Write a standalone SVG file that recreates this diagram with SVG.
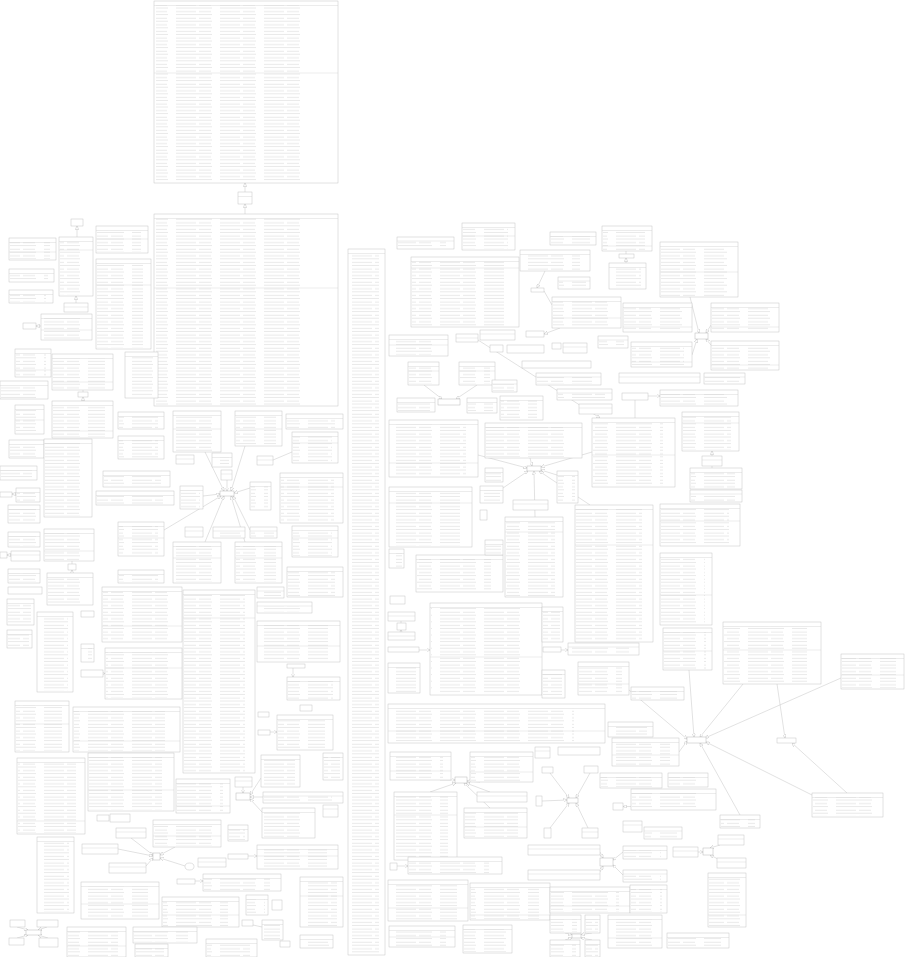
<svg xmlns="http://www.w3.org/2000/svg" width="911" height="957" viewBox="0 0 911 957">
<defs>
<pattern id="tx" width="44" height="6.6" patternUnits="userSpaceOnUse"><rect x="0" y="1.3" width="36" height="0.6" fill="#dadada"/><rect x="0" y="4.6" width="20" height="0.6" fill="#dadada"/><rect x="23" y="4.6" width="12" height="0.6" fill="#dadada"/></pattern>
<marker id="ar" viewBox="0 0 10 10" refX="10" refY="5" markerWidth="3.5" markerHeight="3.5" markerUnits="userSpaceOnUse" orient="auto"><path d="M0,0L10,5L0,10z" fill="#fff" stroke="#aaa" stroke-width="1"/></marker>
<style>
.b{fill:#fff;stroke:#c4c4c4;stroke-width:0.5}
.h{fill:#fff;stroke:#b8b8b8;stroke-width:0.5}
.t{fill:url(#tx)}
.d{stroke:#d0d0d0;stroke-width:0.4;fill:none}
.c line{stroke:#c4c4c4;stroke-width:0.5}
.c .a{marker-end:url(#ar)}
</style>
</defs>
<rect width="911" height="957" fill="#fff"/>
<g class="c" id="connectors">
<line class="a" x1="245" y1="214" x2="245" y2="204"/>
<line class="a" x1="245" y1="192" x2="245" y2="183"/>
<line class="a" x1="77" y1="237" x2="77" y2="226"/>
<line class="a" x1="76" y1="303" x2="76" y2="296"/>
<line class="a" x1="41" y1="326" x2="36" y2="326"/>
<line x1="83" y1="390" x2="83" y2="392"/>
<line class="a" x1="83" y1="401" x2="83" y2="397"/>
<line x1="72" y1="561" x2="72" y2="564"/>
<line class="a" x1="72" y1="573" x2="72" y2="570"/>
<line class="a" x1="16" y1="494" x2="12" y2="494"/>
<line class="a" x1="11" y1="555" x2="7" y2="555"/>
<line class="a" x1="205" y1="452" x2="224" y2="491"/>
<line class="a" x1="227" y1="480" x2="227" y2="491"/>
<line class="a" x1="245" y1="446" x2="231" y2="491"/>
<line class="a" x1="250" y1="488" x2="234" y2="493"/>
<line class="a" x1="203" y1="496" x2="220" y2="494"/>
<line class="a" x1="164" y1="530" x2="221" y2="496"/>
<line class="a" x1="205" y1="542" x2="224" y2="496"/>
<line class="a" x1="245" y1="542" x2="231" y2="496"/>
<line class="a" x1="250" y1="530" x2="233" y2="496"/>
<line x1="273" y1="460" x2="292" y2="452"/>
<line class="a" x1="424" y1="385" x2="442" y2="399"/>
<line class="a" x1="477" y1="385" x2="456" y2="399"/>
<line x1="626" y1="251" x2="626" y2="254"/>
<line class="a" x1="626" y1="263" x2="626" y2="258"/>
<line class="a" x1="545" y1="271" x2="537" y2="288"/>
<line x1="552" y1="305" x2="544" y2="291"/>
<line class="a" x1="560" y1="328" x2="544" y2="334"/>
<line class="a" x1="478" y1="340" x2="600" y2="418"/>
<line x1="635" y1="418" x2="635" y2="400"/>
<line class="a" x1="648" y1="396" x2="660" y2="396"/>
<line class="a" x1="530" y1="458" x2="532" y2="466"/>
<line class="a" x1="592" y1="452" x2="541" y2="467"/>
<line class="a" x1="478" y1="455" x2="527" y2="468"/>
<line class="a" x1="503" y1="488" x2="528" y2="471"/>
<line class="a" x1="560" y1="476" x2="541" y2="470"/>
<line class="a" x1="535" y1="517" x2="534" y2="471"/>
<line class="a" x1="590" y1="505" x2="539" y2="471"/>
<line class="a" x1="690" y1="297" x2="699" y2="333"/>
<line class="a" x1="692" y1="355" x2="697" y2="339"/>
<line class="a" x1="711" y1="325" x2="706" y2="333"/>
<line class="a" x1="711" y1="345" x2="706" y2="339"/>
<line class="a" x1="712" y1="456" x2="712" y2="451"/>
<line x1="712" y1="466" x2="712" y2="468"/>
<line class="a" x1="103" y1="673.5" x2="105" y2="673.5"/>
<line class="a" x1="131" y1="838" x2="153" y2="855"/>
<line class="a" x1="118" y1="849" x2="153" y2="856"/>
<line class="a" x1="146" y1="866" x2="153" y2="858"/>
<line class="a" x1="175" y1="847" x2="160" y2="855"/>
<line class="a" x1="185" y1="866" x2="160" y2="858"/>
<line class="a" x1="243" y1="787" x2="243" y2="793"/>
<line class="a" x1="261" y1="778" x2="250" y2="795"/>
<line class="a" x1="263" y1="797" x2="250" y2="797"/>
<line class="a" x1="262" y1="812" x2="250" y2="799"/>
<line class="a" x1="248" y1="856" x2="257" y2="856"/>
<line class="a" x1="195" y1="881" x2="203" y2="881"/>
<line x1="253" y1="925" x2="262" y2="927"/>
<line class="a" x1="17" y1="927" x2="28" y2="930"/>
<line class="a" x1="47" y1="927" x2="38" y2="930"/>
<line class="a" x1="17" y1="938" x2="28" y2="935"/>
<line class="a" x1="48" y1="938" x2="38" y2="935"/>
<line class="a" x1="270" y1="732" x2="277" y2="732"/>
<line class="a" x1="293" y1="668" x2="293" y2="677"/>
<line class="a" x1="419" y1="650" x2="430" y2="650"/>
<line class="a" x1="561" y1="650" x2="568" y2="650"/>
<line x1="401" y1="621" x2="401" y2="623"/>
<line class="a" x1="401" y1="632" x2="401" y2="630"/>
<line class="a" x1="440" y1="780" x2="455" y2="780"/>
<line class="a" x1="480" y1="782" x2="467" y2="781"/>
<line class="a" x1="430" y1="792" x2="456" y2="783"/>
<line class="a" x1="490" y1="792" x2="466" y2="783"/>
<line class="a" x1="490" y1="808" x2="464" y2="783"/>
<line class="a" x1="550" y1="773" x2="569" y2="798"/>
<line class="a" x1="590" y1="773" x2="576" y2="798"/>
<line class="a" x1="542" y1="801" x2="567" y2="800"/>
<line class="a" x1="550" y1="828" x2="569" y2="803"/>
<line class="a" x1="588" y1="828" x2="576" y2="803"/>
<line class="a" x1="600" y1="852" x2="603" y2="858"/>
<line class="a" x1="600" y1="872" x2="603" y2="866"/>
<line class="a" x1="623" y1="852" x2="613" y2="860"/>
<line class="a" x1="623" y1="875" x2="613" y2="865"/>
<line class="a" x1="397" y1="866" x2="408" y2="866"/>
<line class="a" x1="565" y1="933" x2="572" y2="934.5"/>
<line class="a" x1="592" y1="933" x2="581" y2="934.5"/>
<line class="a" x1="565" y1="940" x2="572" y2="938"/>
<line class="a" x1="592" y1="940" x2="581" y2="938"/>
<line class="a" x1="689" y1="670" x2="694" y2="737"/>
<line class="a" x1="629" y1="690" x2="687" y2="739"/>
<line class="a" x1="743" y1="684" x2="700" y2="737"/>
<line class="a" x1="841" y1="678" x2="705" y2="738"/>
<line class="a" x1="812" y1="795" x2="706" y2="742"/>
<line class="a" x1="740" y1="815" x2="700" y2="743"/>
<line class="a" x1="679" y1="752" x2="687" y2="741"/>
<line class="a" x1="777" y1="684" x2="785" y2="738"/>
<line class="a" x1="847" y1="793" x2="792" y2="743"/>
<line class="a" x1="631" y1="806.5" x2="623" y2="806.5"/>
<line class="a" x1="698" y1="852" x2="703" y2="852"/>
<line class="a" x1="720" y1="845" x2="710" y2="848"/>
<line class="a" x1="720" y1="860" x2="710" y2="855"/>
</g>
<g id="n1"><rect class="b" x="154" y="1" width="184" height="182"/><rect class="t" x="156" y="5" width="150" height="177"/><path class="d" d="M154 5.5h184M154 73h184"/></g>
<g id="n2"><rect class="b" x="238" y="192" width="14" height="12"/><path class="d" d="M238 196.5h14"/></g>
<g id="n3"><rect class="b" x="154" y="214" width="184" height="192"/><rect class="t" x="156" y="218" width="150" height="187"/><path class="d" d="M154 218.5h184M154 288h184"/></g>
<g id="n4"><rect class="b" x="71" y="219" width="12" height="7"/></g>
<g id="n5"><rect class="b" x="59" y="237" width="34" height="59"/><rect class="t" x="60" y="241" width="28" height="54"/><path class="d" d="M59 241.5h34M59 250h34"/></g>
<g id="n6"><rect class="b" x="9" y="238" width="47" height="22"/><rect class="t" x="10" y="242" width="40" height="17"/><path class="d" d="M9 242.5h47M9 252h47"/></g>
<g id="n7"><rect class="b" x="9" y="269" width="45" height="13"/><rect class="t" x="10" y="273" width="38" height="8"/><path class="d" d="M9 273.5h45"/></g>
<g id="n8"><rect class="b" x="9" y="290" width="44" height="13"/><rect class="t" x="10" y="294" width="36" height="8"/><path class="d" d="M9 294.5h44"/></g>
<g id="n9"><rect class="b" x="64" y="303" width="24" height="9"/><path class="d" d="M64 307h24"/></g>
<g id="n10"><rect class="b" x="96" y="226" width="52" height="27"/><rect class="t" x="97" y="230" width="44" height="22"/><path class="d" d="M96 230.5h52M96 239h52"/></g>
<g id="n11"><rect class="b" x="96" y="259" width="55" height="90"/><rect class="t" x="97" y="263" width="46" height="85"/><path class="d" d="M96 263.5h55M96 285h55"/></g>
<g id="n12"><rect class="b" x="41" y="314" width="51" height="26"/><rect class="t" x="42" y="318" width="43" height="21"/><path class="d" d="M41 318.5h51M41 330h51"/></g>
<g id="n13"><rect class="b" x="23" y="323" width="13" height="6"/></g>
<g id="n14"><rect class="b" x="15" y="349" width="36" height="28"/><rect class="t" x="16" y="353" width="30" height="23"/><path class="d" d="M15 353.5h36M15 370h36"/></g>
<g id="n15"><rect class="b" x="52" y="354" width="61" height="36"/><rect class="t" x="53" y="358" width="52" height="31"/><path class="d" d="M52 358.5h61M52 382h61"/></g>
<g id="n16"><rect class="b" x="125" y="352" width="33" height="46"/><rect class="t" x="126" y="356" width="27" height="41"/><path class="d" d="M125 356.5h33"/></g>
<g id="n17"><rect class="b" x="0" y="381" width="48" height="18"/><rect class="t" x="1" y="385" width="40" height="13"/><path class="d" d="M0 385.5h48"/></g>
<g id="n18"><rect class="b" x="78" y="392" width="10" height="5"/></g>
<g id="n19"><rect class="b" x="52" y="401" width="61" height="37"/><rect class="t" x="53" y="405" width="52" height="32"/><path class="d" d="M52 405.5h61M52 431h61"/></g>
<g id="n20"><rect class="b" x="15" y="405" width="29" height="29"/><rect class="t" x="16" y="409" width="24" height="24"/><path class="d" d="M15 409.5h29M15 420h29"/></g>
<g id="n21"><rect class="b" x="9" y="440" width="35" height="18"/><rect class="t" x="10" y="444" width="29" height="13"/><path class="d" d="M9 444.5h35"/></g>
<g id="n22"><rect class="b" x="44" y="439" width="48" height="78"/><rect class="t" x="45" y="443" width="40" height="73"/><path class="d" d="M44 443.5h48"/></g>
<g id="n23"><rect class="b" x="0" y="466" width="37" height="14"/><rect class="t" x="1" y="470" width="31" height="9"/><path class="d" d="M0 470.5h37"/></g>
<g id="n24"><rect class="b" x="0" y="492" width="12" height="5"/></g>
<g id="n25"><rect class="b" x="16" y="488" width="24" height="14"/><rect class="t" x="17" y="492" width="20" height="9"/><path class="d" d="M16 492.5h24"/></g>
<g id="n26"><rect class="b" x="8" y="505" width="32" height="18"/><rect class="t" x="9" y="509" width="27" height="13"/><path class="d" d="M8 509.5h32"/></g>
<g id="n27"><rect class="b" x="8" y="532" width="32" height="15"/><rect class="t" x="9" y="536" width="27" height="10"/><path class="d" d="M8 536.5h32"/></g>
<g id="n28"><rect class="b" x="0" y="552" width="7" height="6"/></g>
<g id="n29"><rect class="b" x="11" y="551" width="29" height="10"/><path class="d" d="M11 555h29"/></g>
<g id="n30"><rect class="b" x="8" y="569" width="32" height="14"/><rect class="t" x="9" y="573" width="27" height="9"/><path class="d" d="M8 573.5h32"/></g>
<g id="n31"><rect class="b" x="8" y="587" width="34" height="7"/></g>
<g id="n32"><rect class="b" x="44" y="529" width="50" height="32"/><rect class="t" x="45" y="533" width="42" height="27"/><path class="d" d="M44 533.5h50M44 551h50"/></g>
<g id="n33"><rect class="b" x="68" y="564" width="8" height="6"/></g>
<g id="n34"><rect class="b" x="47" y="573" width="46" height="32"/><rect class="t" x="48" y="577" width="39" height="27"/><path class="d" d="M47 577.5h46"/></g>
<g id="n35"><rect class="b" x="118" y="412" width="46" height="17"/><rect class="t" x="119" y="416" width="39" height="12"/><path class="d" d="M118 416.5h46"/></g>
<g id="n36"><rect class="b" x="118" y="436" width="46" height="23"/><rect class="t" x="119" y="440" width="39" height="18"/><path class="d" d="M118 440.5h46"/></g>
<g id="n37"><rect class="b" x="176" y="455" width="18" height="9"/><path class="d" d="M176 459h18"/></g>
<g id="n38"><rect class="b" x="103" y="471" width="67" height="16"/><rect class="t" x="104" y="475" width="57" height="11"/><path class="d" d="M103 475.5h67"/></g>
<g id="n39"><rect class="b" x="96" y="491" width="78" height="14"/><rect class="t" x="97" y="495" width="66" height="9"/><path class="d" d="M96 495.5h78"/></g>
<g id="n40"><rect class="b" x="180" y="486" width="23" height="23"/><rect class="t" x="181" y="490" width="19" height="18"/><path class="d" d="M180 490.5h23"/></g>
<g id="n41"><rect class="b" x="173" y="411" width="48" height="41"/><rect class="t" x="174" y="415" width="40" height="36"/><path class="d" d="M173 415.5h48M173 429h48"/></g>
<g id="n42"><rect class="b" x="235" y="411" width="47" height="35"/><rect class="t" x="236" y="415" width="40" height="30"/><path class="d" d="M235 415.5h47M235 429h47"/></g>
<g id="n43"><rect class="b" x="212" y="453" width="20" height="14"/><rect class="t" x="213" y="457" width="16" height="9"/><path class="d" d="M212 457.5h20"/></g>
<g id="n44"><rect class="b" x="221" y="470" width="11" height="10"/><path class="d" d="M221 474h11"/></g>
<g id="n45"><rect class="h" x="220" y="491" width="14" height="5"/></g>
<g id="n46"><rect class="b" x="118" y="522" width="46" height="34"/><rect class="t" x="119" y="526" width="39" height="29"/><path class="d" d="M118 526.5h46M118 538h46"/></g>
<g id="n47"><rect class="b" x="185" y="527" width="18" height="10"/><path class="d" d="M185 531h18"/></g>
<g id="n48"><rect class="b" x="213" y="527" width="32" height="11"/><rect class="t" x="214" y="531" width="27" height="6"/><path class="d" d="M213 531h32"/></g>
<g id="n49"><rect class="b" x="173" y="542" width="48" height="41"/><rect class="t" x="174" y="546" width="40" height="36"/><path class="d" d="M173 546.5h48M173 558h48"/></g>
<g id="n50"><rect class="b" x="235" y="542" width="47" height="41"/><rect class="t" x="236" y="546" width="40" height="36"/><path class="d" d="M235 546.5h47M235 558h47"/></g>
<g id="n51"><rect class="b" x="118" y="570" width="46" height="13"/><rect class="t" x="119" y="574" width="39" height="8"/><path class="d" d="M118 574.5h46"/></g>
<g id="n52"><rect class="b" x="102" y="587" width="80" height="55"/><rect class="t" x="103" y="591" width="68" height="50"/><path class="d" d="M102 591.5h80M102 626h80"/></g>
<g id="n53"><rect class="b" x="250" y="482" width="21" height="28"/><rect class="t" x="251" y="486" width="17" height="23"/><path class="d" d="M250 486.5h21"/></g>
<g id="n54"><rect class="b" x="286" y="414" width="57" height="15"/><rect class="t" x="287" y="418" width="48" height="10"/><path class="d" d="M286 418.5h57"/></g>
<g id="n55"><rect class="b" x="292" y="432" width="46" height="31"/><rect class="t" x="293" y="436" width="39" height="26"/><path class="d" d="M292 436.5h46M292 443h46"/></g>
<g id="n56"><rect class="b" x="257" y="456" width="16" height="9"/><path class="d" d="M257 460h16"/></g>
<g id="n57"><rect class="b" x="280" y="473" width="63" height="50"/><rect class="t" x="281" y="477" width="53" height="45"/><path class="d" d="M280 477.5h63M280 487h63"/></g>
<g id="n58"><rect class="b" x="292" y="526" width="46" height="31"/><rect class="t" x="293" y="530" width="39" height="26"/><path class="d" d="M292 530.5h46M292 538h46"/></g>
<g id="n59"><rect class="b" x="250" y="527" width="27" height="11"/><rect class="t" x="251" y="531" width="23" height="6"/><path class="d" d="M250 531h27"/></g>
<g id="n60"><rect class="b" x="287" y="567" width="56" height="30"/><rect class="t" x="288" y="571" width="47" height="25"/><path class="d" d="M287 571.5h56"/></g>
<g id="n61"><rect class="b" x="348" y="249" width="37" height="706"/><rect class="t" x="349" y="253" width="30" height="701"/><path class="d" d="M348 253.5h37"/></g>
<g id="n62"><rect class="b" x="397" y="237" width="57" height="12"/><rect class="t" x="398" y="241" width="48" height="7"/><path class="d" d="M397 241h57"/></g>
<g id="n63"><rect class="b" x="411" y="257" width="108" height="70"/><rect class="t" x="412" y="261" width="92" height="65"/><path class="d" d="M411 261.5h108M411 268h108"/></g>
<g id="n64"><rect class="b" x="462" y="223" width="53" height="27"/><rect class="t" x="463" y="227" width="45" height="22"/><path class="d" d="M462 227.5h53M462 236h53"/></g>
<g id="n65"><rect class="b" x="389" y="335" width="59" height="21"/><rect class="t" x="390" y="339" width="50" height="16"/><path class="d" d="M389 339.5h59M389 345h59"/></g>
<g id="n66"><rect class="b" x="456" y="334" width="22" height="8"/><path class="d" d="M456 338h22"/></g>
<g id="n67"><rect class="b" x="408" y="362" width="31" height="23"/><rect class="t" x="409" y="366" width="26" height="18"/><path class="d" d="M408 366.5h31M408 371h31"/></g>
<g id="n68"><rect class="b" x="459" y="362" width="36" height="23"/><rect class="t" x="460" y="366" width="30" height="18"/><path class="d" d="M459 366.5h36M459 371h36"/></g>
<g id="n69"><rect class="b" x="397" y="398" width="38" height="14"/><rect class="t" x="398" y="402" width="32" height="9"/><path class="d" d="M397 402.5h38"/></g>
<g id="n70"><rect class="h" x="438" y="399" width="22" height="6"/></g>
<g id="n71"><rect class="b" x="467" y="398" width="30" height="15"/><rect class="t" x="468" y="402" width="25" height="10"/><path class="d" d="M467 402.5h30"/></g>
<g id="n72"><rect class="b" x="500" y="396" width="43" height="24"/><rect class="t" x="501" y="400" width="36" height="19"/><path class="d" d="M500 400.5h43"/></g>
<g id="n73"><rect class="b" x="389" y="420" width="89" height="57"/><rect class="t" x="390" y="424" width="76" height="52"/><path class="d" d="M389 424.5h89M389 463h89"/></g>
<g id="n74"><rect class="b" x="485" y="423" width="97" height="35"/><rect class="t" x="486" y="427" width="82" height="30"/><path class="d" d="M485 427.5h97"/></g>
<g id="n75"><rect class="b" x="485" y="468" width="18" height="14"/><rect class="t" x="486" y="472" width="15" height="9"/><path class="d" d="M485 472.5h18"/></g>
<g id="n76"><rect class="b" x="389" y="487" width="83" height="60"/><rect class="t" x="390" y="491" width="70" height="55"/><path class="d" d="M389 491.5h83M389 503h83"/></g>
<g id="n77"><rect class="b" x="389" y="549" width="15" height="19"/><rect class="t" x="390" y="553" width="12" height="14"/><path class="d" d="M389 553.5h15"/></g>
<g id="n78"><rect class="b" x="416" y="555" width="87" height="37"/><rect class="t" x="417" y="559" width="74" height="32"/><path class="d" d="M416 559.5h87"/></g>
<g id="n79"><rect class="b" x="480" y="330" width="35" height="10"/><path class="d" d="M480 334h35"/></g>
<g id="n80"><rect class="b" x="550" y="232" width="46" height="13"/><rect class="t" x="551" y="236" width="39" height="8"/><path class="d" d="M550 236.5h46"/></g>
<g id="n81"><rect class="b" x="602" y="226" width="50" height="25"/><rect class="t" x="603" y="230" width="42" height="20"/><path class="d" d="M602 230.5h50M602 246h50"/></g>
<g id="n82"><rect class="b" x="619" y="254" width="15" height="4"/></g>
<g id="n83"><rect class="b" x="609" y="263" width="37" height="26"/><rect class="t" x="610" y="267" width="31" height="21"/><path class="d" d="M609 267.5h37"/></g>
<g id="n84"><rect class="b" x="660" y="242" width="78" height="55"/><rect class="t" x="661" y="246" width="66" height="50"/><path class="d" d="M660 246.5h78M660 272h78"/></g>
<g id="n85"><rect class="b" x="520" y="250" width="70" height="21"/><rect class="t" x="521" y="254" width="59" height="16"/><path class="d" d="M520 254.5h70"/></g>
<g id="n86"><rect class="b" x="558" y="277" width="32" height="12"/><rect class="t" x="559" y="281" width="27" height="7"/><path class="d" d="M558 281h32"/></g>
<g id="n87"><rect class="b" x="531" y="288" width="13" height="4"/></g>
<g id="n88"><rect class="b" x="552" y="297" width="69" height="31"/><rect class="t" x="553" y="301" width="58" height="26"/><path class="d" d="M552 301.5h69M552 318h69"/></g>
<g id="n89"><rect class="b" x="526" y="331" width="18" height="6"/></g>
<g id="n90"><rect class="b" x="598" y="336" width="30" height="12"/><rect class="t" x="599" y="340" width="25" height="7"/><path class="d" d="M598 340h30"/></g>
<g id="n91"><rect class="b" x="623" y="303" width="69" height="29"/><rect class="t" x="624" y="307" width="58" height="24"/><path class="d" d="M623 307.5h69M623 327h69"/></g>
<g id="n92"><rect class="b" x="631" y="342" width="61" height="25"/><rect class="t" x="632" y="346" width="52" height="20"/><path class="d" d="M631 346.5h61M631 362h61"/></g>
<g id="n93"><rect class="b" x="552" y="343" width="9" height="6"/></g>
<g id="n94"><rect class="b" x="563" y="343" width="24" height="10"/><path class="d" d="M563 347h24"/></g>
<g id="n95"><rect class="b" x="490" y="345" width="13" height="7"/></g>
<g id="n96"><rect class="b" x="507" y="345" width="37" height="8"/></g>
<g id="n97"><rect class="b" x="522" y="361" width="69" height="7"/></g>
<g id="n98"><rect class="b" x="536" y="373" width="65" height="12"/><rect class="t" x="537" y="377" width="55" height="7"/><path class="d" d="M536 377h65"/></g>
<g id="n99"><rect class="b" x="619" y="373" width="81" height="10"/><path class="d" d="M619 377h81"/></g>
<g id="n100"><rect class="b" x="492" y="380" width="25" height="12"/><rect class="t" x="493" y="384" width="21" height="7"/><path class="d" d="M492 384h25"/></g>
<g id="n101"><rect class="b" x="711" y="303" width="68" height="29"/><rect class="t" x="712" y="307" width="58" height="24"/><path class="d" d="M711 307.5h68M711 327h68"/></g>
<g id="n102"><rect class="h" x="695" y="333" width="13" height="6"/></g>
<g id="n103"><rect class="b" x="711" y="341" width="68" height="29"/><rect class="t" x="712" y="345" width="58" height="24"/><path class="d" d="M711 345.5h68M711 365h68"/></g>
<g id="n104"><rect class="b" x="704" y="373" width="41" height="11"/><rect class="t" x="705" y="377" width="35" height="6"/><path class="d" d="M704 377h41"/></g>
<g id="n105"><rect class="b" x="660" y="390" width="78" height="16"/><rect class="t" x="661" y="394" width="66" height="11"/><path class="d" d="M660 394.5h78"/></g>
<g id="n106"><rect class="b" x="622" y="393" width="26" height="7"/></g>
<g id="n107"><rect class="b" x="557" y="389" width="55" height="11"/><rect class="t" x="558" y="393" width="47" height="6"/><path class="d" d="M557 393h55"/></g>
<g id="n108"><rect class="b" x="579" y="404" width="33" height="10"/><path class="d" d="M579 408h33"/></g>
<g id="n109"><rect class="b" x="592" y="418" width="83" height="69"/><rect class="t" x="593" y="422" width="70" height="64"/><path class="d" d="M592 422.5h83M592 455h83"/></g>
<g id="n110"><rect class="h" x="527" y="466" width="14" height="5"/></g>
<g id="n111"><rect class="b" x="682" y="412" width="57" height="39"/><rect class="t" x="683" y="416" width="48" height="34"/><path class="d" d="M682 416.5h57M682 423h57"/></g>
<g id="n112"><rect class="b" x="702" y="456" width="20" height="10"/><path class="d" d="M702 460h20"/></g>
<g id="n113"><rect class="b" x="690" y="468" width="52" height="21"/><rect class="t" x="691" y="472" width="44" height="16"/><path class="d" d="M690 472.5h52"/></g>
<g id="n114"><rect class="b" x="690" y="490" width="52" height="12"/><rect class="t" x="691" y="494" width="44" height="7"/><path class="d" d="M690 494h52"/></g>
<g id="n115"><rect class="b" x="660" y="504" width="80" height="42"/><rect class="t" x="661" y="508" width="68" height="37"/><path class="d" d="M660 508.5h80M660 521h80"/></g>
<g id="n116"><rect class="b" x="660" y="553" width="52" height="72"/><rect class="t" x="661" y="557" width="44" height="67"/><path class="d" d="M660 557.5h52M660 595h52"/></g>
<g id="n117"><rect class="b" x="480" y="486" width="23" height="17"/><rect class="t" x="481" y="490" width="19" height="12"/><path class="d" d="M480 490.5h23"/></g>
<g id="n118"><rect class="b" x="557" y="471" width="21" height="32"/><rect class="t" x="558" y="475" width="17" height="27"/><path class="d" d="M557 475.5h21"/></g>
<g id="n119"><rect class="b" x="513" y="500" width="35" height="10"/><path class="d" d="M513 504h35"/></g>
<g id="n120"><rect class="b" x="480" y="510" width="7" height="10"/></g>
<g id="n121"><rect class="b" x="505" y="517" width="58" height="80"/><rect class="t" x="506" y="521" width="49" height="75"/><path class="d" d="M505 521.5h58M505 532h58"/></g>
<g id="n122"><rect class="b" x="485" y="540" width="18" height="15"/><rect class="t" x="486" y="544" width="15" height="10"/><path class="d" d="M485 544.5h18"/></g>
<g id="n123"><rect class="b" x="575" y="505" width="78" height="137"/><rect class="t" x="576" y="509" width="66" height="132"/><path class="d" d="M575 509.5h78M575 545h78"/></g>
<g id="n124"><rect class="b" x="7" y="599" width="27" height="26"/><rect class="t" x="8" y="603" width="23" height="21"/><path class="d" d="M7 603.5h27"/></g>
<g id="n125"><rect class="b" x="7" y="630" width="25" height="18"/><rect class="t" x="8" y="634" width="21" height="13"/><path class="d" d="M7 634.5h25"/></g>
<g id="n126"><rect class="b" x="37" y="612" width="36" height="80"/><rect class="t" x="38" y="616" width="30" height="75"/><path class="d" d="M37 616.5h36"/></g>
<g id="n127"><rect class="b" x="81" y="611" width="13" height="6"/></g>
<g id="n128"><rect class="b" x="81" y="644" width="13" height="18"/><rect class="t" x="82" y="648" width="10" height="13"/><path class="d" d="M81 648.5h13"/></g>
<g id="n129"><rect class="b" x="81" y="670" width="22" height="7"/></g>
<g id="n130"><rect class="b" x="105" y="648" width="77" height="51"/><rect class="t" x="106" y="652" width="65" height="46"/><path class="d" d="M105 652.5h77M105 668h77"/></g>
<g id="n131"><rect class="b" x="183" y="590" width="72" height="183"/><rect class="t" x="184" y="594" width="61" height="178"/><path class="d" d="M183 594.5h72M183 618h72"/></g>
<g id="n132"><rect class="b" x="15" y="701" width="54" height="51"/><rect class="t" x="16" y="705" width="46" height="46"/><path class="d" d="M15 705.5h54M15 724h54"/></g>
<g id="n133"><rect class="b" x="73" y="707" width="107" height="45"/><rect class="t" x="74" y="711" width="91" height="40"/><path class="d" d="M73 711.5h107M73 741h107"/></g>
<g id="n134"><rect class="b" x="17" y="758" width="68" height="76"/><rect class="t" x="18" y="762" width="58" height="71"/><path class="d" d="M17 762.5h68M17 821h68"/></g>
<g id="n135"><rect class="b" x="88" y="753" width="86" height="58"/><rect class="t" x="89" y="757" width="73" height="53"/><path class="d" d="M88 757.5h86M88 790h86"/></g>
<g id="n136"><rect class="b" x="37" y="837" width="37" height="76"/><rect class="t" x="38" y="841" width="31" height="71"/><path class="d" d="M37 841.5h37"/></g>
<g id="n137"><rect class="b" x="97" y="815" width="12" height="6"/></g>
<g id="n138"><rect class="b" x="110" y="814" width="20" height="8"/></g>
<g id="n139"><rect class="b" x="116" y="828" width="30" height="10"/><path class="d" d="M116 832h30"/></g>
<g id="n140"><rect class="b" x="82" y="844" width="36" height="10"/><path class="d" d="M82 848h36"/></g>
<g id="n141"><rect class="b" x="109" y="863" width="37" height="10"/><path class="d" d="M109 867h37"/></g>
<g id="n142"><rect class="h" x="153" y="853" width="7" height="7"/></g>
<g id="n143"><ellipse cx="189.5" cy="866.5" rx="4.5" ry="3.5" fill="#fff" stroke="#c4c4c4" stroke-width="0.5"/></g>
<g id="n144"><rect class="b" x="153" y="820" width="68" height="27"/><rect class="t" x="154" y="824" width="58" height="22"/><path class="d" d="M153 824.5h68M153 836h68"/></g>
<g id="n145"><rect class="b" x="176" y="779" width="54" height="34"/><rect class="t" x="177" y="783" width="46" height="29"/><path class="d" d="M176 783.5h54M176 806h54"/></g>
<g id="n146"><rect class="b" x="235" y="777" width="17" height="10"/><path class="d" d="M235 781h17"/></g>
<g id="n147"><rect class="h" x="236" y="793" width="14" height="7"/></g>
<g id="n148"><rect class="b" x="261" y="755" width="39" height="32"/><rect class="t" x="262" y="759" width="33" height="27"/><path class="d" d="M261 759.5h39"/></g>
<g id="n149"><rect class="b" x="263" y="792" width="80" height="11"/><rect class="t" x="264" y="796" width="68" height="6"/><path class="d" d="M263 796h80"/></g>
<g id="n150"><rect class="b" x="262" y="808" width="53" height="30"/><rect class="t" x="263" y="812" width="45" height="25"/><path class="d" d="M262 812.5h53"/></g>
<g id="n151"><rect class="b" x="228" y="825" width="20" height="16"/><rect class="t" x="229" y="829" width="16" height="11"/><path class="d" d="M228 829.5h20"/></g>
<g id="n152"><rect class="b" x="198" y="858" width="28" height="9"/><path class="d" d="M198 862h28"/></g>
<g id="n153"><rect class="b" x="228" y="854" width="20" height="5"/></g>
<g id="n154"><rect class="b" x="257" y="845" width="81" height="24"/><rect class="t" x="258" y="849" width="69" height="19"/><path class="d" d="M257 849.5h81M257 856h81"/></g>
<g id="n155"><rect class="b" x="81" y="882" width="78" height="37"/><rect class="t" x="82" y="886" width="66" height="32"/><path class="d" d="M81 886.5h78M81 904h78"/></g>
<g id="n156"><rect class="b" x="177" y="879" width="18" height="5"/></g>
<g id="n157"><rect class="b" x="203" y="874" width="78" height="17"/><rect class="t" x="204" y="878" width="66" height="12"/><path class="d" d="M203 878.5h78"/></g>
<g id="n158"><rect class="b" x="162" y="897" width="77" height="30"/><rect class="t" x="163" y="901" width="65" height="25"/><path class="d" d="M162 901.5h77M162 915h77"/></g>
<g id="n159"><rect class="b" x="246" y="895" width="22" height="20"/><rect class="t" x="247" y="899" width="18" height="15"/><path class="d" d="M246 899.5h22"/></g>
<g id="n160"><rect class="b" x="272" y="900" width="10" height="10"/></g>
<g id="n161"><rect class="b" x="242" y="920" width="11" height="6"/></g>
<g id="n162"><rect class="b" x="262" y="920" width="21" height="20"/><rect class="t" x="263" y="924" width="17" height="15"/><path class="d" d="M262 924.5h21"/></g>
<g id="n163"><rect class="b" x="280" y="941" width="10" height="6"/></g>
<g id="n164"><rect class="b" x="206" y="939" width="51" height="18"/><rect class="t" x="207" y="943" width="43" height="13"/><path class="d" d="M206 943.5h51"/></g>
<g id="n165"><rect class="b" x="10" y="920" width="15" height="7"/></g>
<g id="n166"><rect class="b" x="37" y="920" width="21" height="7"/></g>
<g id="n167"><rect class="h" x="26" y="930" width="15" height="5"/></g>
<g id="n168"><rect class="b" x="9" y="938" width="15" height="7"/></g>
<g id="n169"><rect class="b" x="39" y="938" width="19" height="9"/></g>
<g id="n170"><rect class="b" x="67" y="927" width="59" height="30"/><rect class="t" x="68" y="931" width="50" height="25"/><path class="d" d="M67 931.5h59M67 946h59"/></g>
<g id="n171"><rect class="b" x="133" y="927" width="64" height="16"/><rect class="t" x="134" y="931" width="54" height="11"/><path class="d" d="M133 931.5h64"/></g>
<g id="n172"><rect class="b" x="135" y="944" width="33" height="13"/><rect class="t" x="136" y="948" width="28" height="8"/><path class="d" d="M135 948.5h33"/></g>
<g id="n173"><rect class="b" x="258" y="712" width="11" height="5"/></g>
<g id="n174"><rect class="b" x="258" y="730" width="12" height="5"/></g>
<g id="n175"><rect class="b" x="277" y="715" width="56" height="35"/><rect class="t" x="278" y="719" width="47" height="30"/><path class="d" d="M277 719.5h56"/></g>
<g id="n176"><rect class="b" x="287" y="664" width="18" height="4"/></g>
<g id="n177"><rect class="b" x="287" y="677" width="53" height="23"/><rect class="t" x="288" y="681" width="45" height="18"/><path class="d" d="M287 681.5h53"/></g>
<g id="n178"><rect class="b" x="257" y="621" width="83" height="41"/><rect class="t" x="258" y="625" width="70" height="36"/><path class="d" d="M257 625.5h83M257 646h83"/></g>
<g id="n179"><rect class="b" x="257" y="587" width="27" height="11"/><rect class="t" x="258" y="591" width="23" height="6"/><path class="d" d="M257 591h27"/></g>
<g id="n180"><rect class="b" x="257" y="602" width="55" height="11"/><rect class="t" x="258" y="606" width="47" height="6"/><path class="d" d="M257 606h55"/></g>
<g id="n181"><rect class="b" x="300" y="705" width="12" height="6"/></g>
<g id="n183"><rect class="b" x="323" y="753" width="20" height="27"/><rect class="t" x="324" y="757" width="16" height="22"/><path class="d" d="M323 757.5h20"/></g>
<g id="n186"><rect class="b" x="323" y="805" width="15" height="12"/><path class="d" d="M323 809h15"/></g>
<g id="n188"><rect class="b" x="300" y="877" width="43" height="50"/><rect class="t" x="301" y="881" width="36" height="45"/><path class="d" d="M300 881.5h43M300 896h43"/></g>
<g id="n189"><rect class="b" x="300" y="935" width="33" height="13"/><rect class="t" x="301" y="939" width="28" height="8"/><path class="d" d="M300 939.5h33"/></g>
<g id="n191"><rect class="b" x="390" y="596" width="15" height="8"/></g>
<g id="n192"><rect class="b" x="388" y="612" width="27" height="9"/><path class="d" d="M388 616h27"/></g>
<g id="n193"><rect class="b" x="397" y="623" width="9" height="7"/></g>
<g id="n194"><rect class="b" x="388" y="632" width="27" height="8"/><path class="d" d="M388 636h27"/></g>
<g id="n195"><rect class="b" x="388" y="647" width="31" height="5"/></g>
<g id="n196"><rect class="b" x="430" y="603" width="112" height="92"/><rect class="t" x="431" y="607" width="95" height="87"/><path class="d" d="M430 607.5h112M430 657h112"/></g>
<g id="n197"><rect class="b" x="388" y="663" width="32" height="30"/><rect class="t" x="389" y="667" width="27" height="25"/><path class="d" d="M388 667.5h32"/></g>
<g id="n198"><rect class="b" x="542" y="607" width="21" height="35"/><rect class="t" x="543" y="611" width="17" height="30"/><path class="d" d="M542 611.5h21"/></g>
<g id="n199"><rect class="b" x="543" y="647" width="18" height="5"/></g>
<g id="n200"><rect class="b" x="568" y="643" width="71" height="12"/><rect class="t" x="569" y="647" width="60" height="7"/><path class="d" d="M568 647h71"/></g>
<g id="n201"><rect class="b" x="542" y="670" width="23" height="28"/><rect class="t" x="543" y="674" width="19" height="23"/><path class="d" d="M542 674.5h23"/></g>
<g id="n202"><rect class="b" x="578" y="662" width="51" height="33"/><rect class="t" x="579" y="666" width="43" height="28"/><path class="d" d="M578 666.5h51M578 684h51"/></g>
<g id="n203"><rect class="b" x="388" y="704" width="217" height="39"/><rect class="t" x="389" y="708" width="185" height="34"/><path class="d" d="M388 708.5h217M388 731h217"/></g>
<g id="n204"><rect class="b" x="535" y="747" width="15" height="11"/><path class="d" d="M535 751h15"/></g>
<g id="n205"><rect class="b" x="558" y="747" width="42" height="8"/></g>
<g id="n206"><rect class="b" x="390" y="752" width="61" height="28"/><rect class="t" x="391" y="756" width="52" height="23"/><path class="d" d="M390 756.5h61M390 771h61"/></g>
<g id="n207"><rect class="b" x="470" y="752" width="63" height="30"/><rect class="t" x="471" y="756" width="53" height="25"/><path class="d" d="M470 756.5h63M470 772h63"/></g>
<g id="n208"><rect class="h" x="455" y="777" width="12" height="6"/></g>
<g id="n209"><rect class="b" x="394" y="792" width="63" height="68"/><rect class="t" x="395" y="796" width="53" height="63"/><path class="d" d="M394 796.5h63M394 815h63"/></g>
<g id="n210"><rect class="b" x="477" y="792" width="50" height="10"/><path class="d" d="M477 796h50"/></g>
<g id="n211"><rect class="b" x="464" y="808" width="63" height="30"/><rect class="t" x="465" y="812" width="53" height="25"/><path class="d" d="M464 812.5h63M464 827h63"/></g>
<g id="n212"><rect class="b" x="390" y="863" width="7" height="7"/></g>
<g id="n213"><rect class="b" x="408" y="857" width="94" height="17"/><rect class="t" x="409" y="861" width="80" height="12"/><path class="d" d="M408 861.5h94"/></g>
<g id="n214"><rect class="b" x="388" y="880" width="80" height="41"/><rect class="t" x="389" y="884" width="68" height="36"/><path class="d" d="M388 884.5h80M388 908h80"/></g>
<g id="n215"><rect class="b" x="470" y="883" width="80" height="37"/><rect class="t" x="471" y="887" width="68" height="32"/><path class="d" d="M470 887.5h80M470 915h80"/></g>
<g id="n216"><rect class="b" x="389" y="926" width="66" height="21"/><rect class="t" x="390" y="930" width="56" height="16"/><path class="d" d="M389 930.5h66M389 937h66"/></g>
<g id="n217"><rect class="b" x="463" y="925" width="49" height="28"/><rect class="t" x="464" y="929" width="42" height="23"/><path class="d" d="M463 929.5h49"/></g>
<g id="n218"><rect class="b" x="542" y="767" width="11" height="6"/></g>
<g id="n219"><rect class="b" x="584" y="766" width="14" height="7"/></g>
<g id="n220"><rect class="h" x="567" y="798" width="11" height="5"/></g>
<g id="n221"><rect class="b" x="536" y="796" width="6" height="10"/></g>
<g id="n222"><rect class="b" x="544" y="828" width="7" height="10"/></g>
<g id="n223"><rect class="b" x="582" y="828" width="16" height="10"/><path class="d" d="M582 832h16"/></g>
<g id="n224"><rect class="b" x="528" y="845" width="72" height="10"/><path class="d" d="M528 849h72"/></g>
<g id="n225"><rect class="b" x="528" y="870" width="72" height="10"/><path class="d" d="M528 874h72"/></g>
<g id="n226"><rect class="b" x="550" y="887" width="80" height="26"/><rect class="t" x="551" y="891" width="68" height="21"/><path class="d" d="M550 891.5h80M550 906h80"/></g>
<g id="n227"><rect class="b" x="550" y="915" width="31" height="18"/><rect class="t" x="551" y="919" width="26" height="13"/><path class="d" d="M550 919.5h31"/></g>
<g id="n228"><rect class="b" x="585" y="915" width="15" height="18"/><rect class="t" x="586" y="919" width="12" height="13"/><path class="d" d="M585 919.5h15"/></g>
<g id="n229"><rect class="h" x="572" y="934" width="9" height="4"/></g>
<g id="n230"><rect class="b" x="550" y="940" width="30" height="17"/><rect class="t" x="551" y="944" width="25" height="12"/><path class="d" d="M550 944.5h30"/></g>
<g id="n231"><rect class="b" x="585" y="940" width="15" height="17"/><rect class="t" x="586" y="944" width="12" height="12"/><path class="d" d="M585 944.5h15"/></g>
<g id="n234"><rect class="b" x="663" y="628" width="49" height="42"/><rect class="t" x="664" y="632" width="42" height="37"/><path class="d" d="M663 632.5h49M663 651h49"/></g>
<g id="n235"><rect class="b" x="723" y="622" width="98" height="62"/><rect class="t" x="724" y="626" width="83" height="57"/><path class="d" d="M723 626.5h98M723 650h98"/></g>
<g id="n236"><rect class="b" x="841" y="654" width="63" height="35"/><rect class="t" x="842" y="658" width="54" height="30"/><path class="d" d="M841 658.5h63M841 675h63"/></g>
<g id="n237"><rect class="b" x="631" y="687" width="53" height="13"/><rect class="t" x="632" y="691" width="45" height="8"/><path class="d" d="M631 691.5h53"/></g>
<g id="n238"><rect class="h" x="687" y="737" width="19" height="6"/></g>
<g id="n239"><rect class="b" x="777" y="738" width="19" height="5"/></g>
<g id="n240"><rect class="b" x="608" y="722" width="45" height="15"/><rect class="t" x="609" y="726" width="38" height="10"/><path class="d" d="M608 726.5h45"/></g>
<g id="n241"><rect class="b" x="612" y="738" width="67" height="28"/><rect class="t" x="613" y="742" width="57" height="23"/><path class="d" d="M612 742.5h67M612 755h67"/></g>
<g id="n242"><rect class="b" x="812" y="793" width="71" height="24"/><rect class="t" x="813" y="797" width="60" height="19"/><path class="d" d="M812 797.5h71"/></g>
<g id="n243"><rect class="b" x="600" y="773" width="62" height="15"/><rect class="t" x="601" y="777" width="53" height="10"/><path class="d" d="M600 777.5h62"/></g>
<g id="n244"><rect class="b" x="668" y="773" width="40" height="14"/><rect class="t" x="669" y="777" width="34" height="9"/><path class="d" d="M668 777.5h40"/></g>
<g id="n245"><rect class="b" x="631" y="789" width="85" height="21"/><rect class="t" x="632" y="793" width="72" height="16"/><path class="d" d="M631 793.5h85"/></g>
<g id="n246"><rect class="b" x="613" y="803" width="10" height="7"/></g>
<g id="n247"><rect class="b" x="720" y="815" width="40" height="13"/><rect class="t" x="721" y="819" width="34" height="8"/><path class="d" d="M720 819.5h40"/></g>
<g id="n248"><rect class="b" x="623" y="821" width="19" height="11"/><path class="d" d="M623 825h19"/></g>
<g id="n249"><rect class="b" x="644" y="827" width="38" height="12"/><rect class="t" x="645" y="831" width="32" height="7"/><path class="d" d="M644 831h38"/></g>
<g id="n250"><rect class="b" x="623" y="846" width="44" height="13"/><rect class="t" x="624" y="850" width="37" height="8"/><path class="d" d="M623 850.5h44"/></g>
<g id="n251"><rect class="b" x="623" y="870" width="44" height="12"/><rect class="t" x="624" y="874" width="37" height="7"/><path class="d" d="M623 874h44"/></g>
<g id="n252"><rect class="h" x="600" y="858" width="13" height="8"/></g>
<g id="n253"><rect class="b" x="673" y="847" width="25" height="10"/><path class="d" d="M673 851h25"/></g>
<g id="n254"><rect class="h" x="703" y="848" width="10" height="7"/></g>
<g id="n255"><rect class="b" x="718" y="835" width="26" height="10"/><path class="d" d="M718 839h26"/></g>
<g id="n256"><rect class="b" x="717" y="858" width="29" height="10"/><path class="d" d="M717 862h29"/></g>
<g id="n257"><rect class="b" x="708" y="873" width="38" height="54"/><rect class="t" x="709" y="877" width="32" height="49"/><path class="d" d="M708 877.5h38M708 915h38"/></g>
<g id="n258"><rect class="b" x="630" y="885" width="37" height="28"/><rect class="t" x="631" y="889" width="31" height="23"/><path class="d" d="M630 889.5h37"/></g>
<g id="n259"><rect class="b" x="608" y="915" width="54" height="33"/><rect class="t" x="609" y="919" width="46" height="28"/><path class="d" d="M608 919.5h54M608 938h54"/></g>
<g id="n260"><rect class="b" x="667" y="933" width="62" height="15"/><rect class="t" x="668" y="937" width="53" height="10"/><path class="d" d="M667 937.5h62"/></g>
</svg>
